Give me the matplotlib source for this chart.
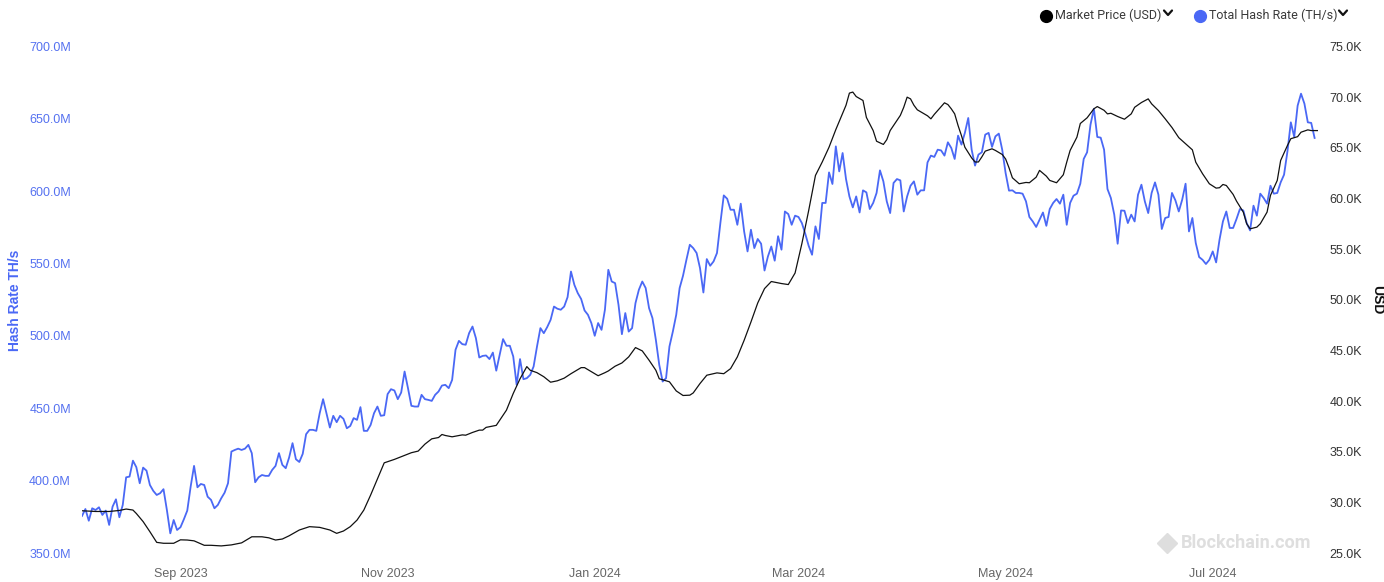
import numpy as np
import pandas as pd
import matplotlib
matplotlib.use("Agg")
import matplotlib.pyplot as plt
import matplotlib.dates as mdates
from matplotlib.lines import Line2D
from matplotlib.ticker import FuncFormatter, FixedLocator

# ---------------- data ----------------
start_date = "2023-08-03"

# Total Hash Rate (millions of TH/s), one value per day from start_date
hash_rate_m = [
    375.6, 380.4, 372.3, 380.9, 379.7, 381.6, 376.3, 379.3, 369.4, 382.0,
    387.1, 374.7, 383.2, 402.3, 402.8, 413.8, 409.3, 398.2, 409.0, 406.9,
    397.0, 392.9, 390.1, 391.3, 394.1, 379.7, 363.6, 372.8, 365.9, 367.8,
    373.3, 379.3, 395.9, 410.2, 395.4, 397.7, 397.0, 388.9, 386.7, 380.9,
    383.2, 387.8, 391.7, 398.2, 420.1, 421.2, 422.1, 421.2, 422.1, 424.7,
    419.0, 398.9, 402.3, 403.9, 403.3, 403.3, 407.4, 410.2, 419.0, 410.9,
    408.6, 416.0, 425.9, 414.8, 412.9, 418.5, 432.1, 435.1, 435.1, 434.4,
    446.6, 456.3, 446.6, 436.7, 444.8, 440.4, 444.8, 442.7, 436.2, 437.8,
    443.2, 442.0, 450.8, 434.4, 434.4, 438.5, 446.6, 451.2, 444.8, 445.2,
    459.8, 463.2, 462.3, 456.3, 460.9, 475.4, 463.9, 451.7, 451.2, 451.2,
    459.3, 456.3, 455.8, 455.1, 459.3, 461.6, 465.7, 466.2, 463.9, 469.6,
    490.4, 496.6, 494.3, 493.9, 501.9, 506.5, 498.5, 485.1, 486.2, 486.5,
    484.0, 488.5, 476.0, 486.9, 497.8, 493.2, 493.2, 485.8, 466.2, 484.0,
    470.1, 470.8, 473.1, 478.9, 492.7, 505.4, 501.9, 506.1, 511.1, 520.3,
    518.8, 518.1, 520.3, 526.8, 544.5, 535.3, 529.6, 525.5, 517.6, 514.6,
    508.9, 500.1, 508.9, 504.2, 518.1, 545.7, 537.6, 536.5, 521.5, 501.2,
    515.8, 503.0, 505.4, 522.7, 531.9, 537.6, 533.1, 519.2, 512.3, 497.3,
    480.0, 468.5, 470.8, 492.7, 503.0, 514.6, 533.1, 541.6, 552.6, 563.0,
    560.7, 557.3, 546.9, 530.0, 553.1, 548.5, 551.5, 557.3, 578.0, 597.1,
    594.8, 587.2, 587.2, 576.8, 591.4, 572.2, 558.4, 573.4, 560.7, 567.0,
    563.7, 545.2, 554.9, 561.8, 552.0, 568.9, 559.6, 586.0, 584.2, 576.8,
    583.1, 582.2, 578.0, 570.6, 562.3, 556.1, 575.7, 567.0, 591.9, 591.9,
    613.0, 605.0, 631.0, 613.7, 626.4, 608.4, 596.4, 588.8, 596.4, 585.3,
    600.6, 599.2, 587.7, 591.9, 598.8, 614.4, 606.8, 593.0, 584.9, 605.7,
    608.4, 607.5, 586.0, 596.4, 603.8, 606.8, 597.6, 600.6, 600.6, 619.9,
    624.6, 623.7, 628.7, 628.2, 624.6, 633.8, 629.9, 622.3, 638.4, 632.2,
    640.3, 650.6, 628.7, 617.7, 625.3, 626.9, 639.1, 640.3, 630.6, 637.9,
    639.8, 628.7, 612.6, 600.4, 600.6, 598.8, 598.8, 598.3, 593.0, 582.2,
    579.1, 575.3, 580.3, 585.3, 576.1, 587.7, 591.9, 594.6, 591.4, 597.6,
    576.8, 591.9, 596.9, 598.3, 605.2, 622.3, 626.9, 646.0, 657.0, 637.5,
    637.0, 628.7, 601.5, 595.3, 583.8, 563.7, 586.7, 586.5, 578.0, 583.8,
    579.1, 597.6, 604.5, 593.0, 584.9, 598.8, 606.1, 597.6, 573.9, 581.5,
    582.2, 598.8, 593.7, 586.0, 594.1, 605.2, 572.2, 581.5, 564.2, 554.5,
    552.6, 549.7, 552.6, 558.4, 550.8, 566.5, 579.1, 586.0, 574.6, 574.6,
    580.8, 587.7, 586.7, 578.0, 572.9, 590.0, 583.1, 598.3, 595.3, 591.4,
    603.8, 598.3, 598.8, 606.1, 611.4, 627.5, 647.6, 637.5, 659.1, 667.4,
    660.5, 647.6, 647.2, 636.8,
]

# Market Price (thousands of USD), sampled at day offsets from start_date
price_day = [
    0, 4, 8, 11, 13, 15, 16, 18, 20, 22, 24, 27, 29, 31, 33, 36, 38, 41, 44, 47,
    50, 53, 55, 57, 59, 61, 64, 67, 70, 73, 75, 77, 79, 81, 83, 85, 87, 89, 92, 95,
    97, 99, 101, 103, 105, 106, 107, 109, 112, 113, 115, 117, 118, 119, 122, 125,
    127, 129, 131, 132, 134, 136, 138, 140, 142, 144, 147, 148, 150, 152, 154, 155,
    157, 159, 161, 163, 165, 167, 169, 170, 172, 173, 175, 177, 179, 180, 182, 184,
    187, 189, 191, 193, 195, 197, 199, 201, 203, 206, 208, 210, 212, 214, 216, 218,
    220, 222, 223, 225, 226, 227, 228, 230, 231, 233, 234, 236, 237, 238, 239, 241,
    242, 243, 244, 245, 246, 248, 249, 250, 251, 253, 254, 255, 256, 257, 258, 259,
    260, 262, 263, 264, 265, 266, 268, 269, 271, 272, 273, 274, 276, 278, 279, 281,
    282, 284, 285, 287, 289, 290, 291, 293, 294, 296, 297, 298, 299, 301, 302, 303,
    305, 307, 309, 310, 312, 314, 315, 317, 319, 321, 323, 325, 327, 328, 330, 332,
    334, 335, 336, 337, 339, 340, 342, 343, 344, 346, 347, 349, 350, 352, 353, 355,
    356, 358, 359, 361, 362, 364,
]
price_k = [
    29.17, 29.1, 29.1, 29.2, 29.34, 29.24, 28.9, 28.1, 27.1, 26.05, 25.96, 25.96,
    26.3, 26.28, 26.2, 25.76, 25.76, 25.7, 25.8, 26.0,
    26.6, 26.6, 26.5, 26.28, 26.38, 26.7, 27.27, 27.6, 27.53, 27.27, 26.94, 27.17,
    27.6, 28.25, 29.24, 30.72, 32.3, 33.9, 34.24, 34.63,
    34.9, 35.06, 35.75, 36.27, 36.4, 36.7, 36.6, 36.47, 36.66, 36.63, 36.9, 37.13,
    37.13, 37.4, 37.6, 39.1,
    40.75, 42.2, 43.4, 43.04, 42.8, 42.4, 41.86, 42.0, 42.26, 42.7, 43.3, 43.3,
    42.9, 42.5, 42.8, 42.97,
    43.44, 43.76, 44.36, 45.28, 44.95, 44.03, 43.04, 42.2, 42.0, 41.9, 41.0, 40.55,
    40.58, 40.8, 41.73, 42.55,
    42.78, 42.7, 43.2, 44.36, 46.0, 47.8, 49.68, 51.1, 51.8, 51.6, 51.5, 52.64,
    55.54, 58.8, 62.27, 63.6,
    65.06, 66.8, 67.6, 69.2, 70.4, 70.5, 70.06, 69.67, 68.0, 66.7, 65.65, 65.33,
    65.8, 66.7, 67.2, 68.2,
    69.0, 70.0, 69.83, 69.2, 68.75, 68.35, 68.16, 67.86, 68.3, 69.07, 69.44, 69.27,
    68.85, 68.35, 67.2, 66.2,
    65.06, 64.0, 63.6, 63.6, 64.1, 64.67, 64.9, 64.74, 64.34, 63.9, 63.03, 62.04,
    61.45, 61.58, 61.55, 62.1,
    62.77, 62.2, 61.78, 61.55, 62.34, 63.58, 64.74, 66.05, 67.4, 67.96, 68.4, 68.85,
    69.07, 68.7, 68.35, 68.41,
    68.09, 67.82, 68.35, 69.0, 69.47, 69.83, 69.34, 68.68, 67.86, 67.0, 66.0, 65.4,
    64.8, 63.58, 62.44, 61.45,
    61.02, 61.06, 61.38, 61.28, 60.4, 59.74, 58.65, 57.5, 57.0, 57.17, 57.5, 58.65,
    60.3, 61.78, 63.75, 65.23,
    65.9, 66.1, 66.54, 66.77, 66.7, 66.7,
]

x_tick_dates = ["2023-09-01", "2023-11-01", "2024-01-01", "2024-03-01", "2024-05-01", "2024-07-01"]
hash_ticks_m = [350, 400, 450, 500, 550, 600, 650, 700]
price_ticks_k = [25, 30, 35, 40, 45, 50, 55, 60, 65, 70, 75]

# ---------------- figure ----------------
W, H = 1384, 582
fig = plt.figure(figsize=(W / 100, H / 100), dpi=100)
fig.patch.set_facecolor("white")

BLUE = "#4a68f5"
BLUE_TXT = "#5571f0"
BASE_FONT = ["Liberation Sans", "DejaVu Sans"]

left, right, top, bottom = 82, 1318, 46.5, 553
ax = fig.add_axes([left / W, 1 - bottom / H, (right - left) / W, (bottom - top) / H])
ax2 = ax.twinx()

t0 = pd.Timestamp(start_date)
hash_dates = pd.date_range(start_date, periods=len(hash_rate_m), freq="D")
price_dates = [t0 + pd.Timedelta(days=d) for d in price_day]

ax.plot(hash_dates, hash_rate_m, color=BLUE, lw=1.3, solid_joinstyle="round")
ax2.plot(price_dates, [p * 1000 for p in price_k], color="#111111", lw=0.9)

x0 = t0
x1 = t0 + pd.Timedelta(days=364)
ax.set_xlim(x0, x1)
ax.set_ylim(350, 700)
ax2.set_ylim(25000, 75000)

ax.xaxis.set_major_locator(FixedLocator([mdates.date2num(pd.Timestamp(d)) for d in x_tick_dates]))
ax.xaxis.set_major_formatter(mdates.DateFormatter("%b %Y"))
ax.set_yticks(hash_ticks_m)
ax.yaxis.set_major_formatter(FuncFormatter(lambda v, p: f"{v:.1f}M"))
ax2.set_yticks([k * 1000 for k in price_ticks_k])
ax2.yaxis.set_major_formatter(FuncFormatter(lambda v, p: f"{v/1000:.1f}K"))

for a in (ax, ax2):
    for s in a.spines.values():
        s.set_visible(False)
    a.tick_params(length=0)

ax.tick_params(axis="x", pad=11, labelsize=9, labelcolor="#666666")
ax.tick_params(axis="y", pad=8, labelsize=9, labelcolor=BLUE_TXT)
ax2.tick_params(axis="y", pad=8.5, labelsize=9, labelcolor="#333333")
for lab in ax.get_xticklabels() + ax.get_yticklabels() + ax2.get_yticklabels():
    lab.set_family(BASE_FONT)

fig.text(15 / W, 1 - 300 / H, "Hash Rate TH/s", rotation=90, ha="center", va="center",
         fontsize=10, fontweight="bold", color=BLUE, family=BASE_FONT)
fig.text(1377 / W, 1 - 300 / H, "USD", rotation=270, ha="center", va="center",
         fontsize=10, fontweight="bold", color="#111111", family=BASE_FONT)

# legend (top right)
def px(x, y):
    return x / W, 1 - y / H

def chevron(xc, yc):
    xs = [xc - 4, xc, xc + 4]
    ys = [yc - 2.5, yc + 2, yc - 2.5]
    fx = [x / W for x in xs]
    fy = [1 - y / H for y in ys]
    fig.add_artist(Line2D(fx, fy, transform=fig.transFigure, color="#111111", lw=1.6,
                          solid_capstyle="round", solid_joinstyle="round"))

fig.add_artist(Line2D([1046 / W], [1 - 15.5 / H], transform=fig.transFigure, marker="o",
                      markersize=8.5, color="#000000", linestyle="none"))
fig.text(*px(1055, 15.5), "Market Price (USD)", ha="left", va="center", fontsize=9,
         color="#3a3a3a", family=["Roboto", "DejaVu Sans"])
chevron(1168, 13)
fig.add_artist(Line2D([1200 / W], [1 - 15.5 / H], transform=fig.transFigure, marker="o",
                      markersize=8.5, color=BLUE, linestyle="none"))
fig.text(*px(1209, 15.5), "Total Hash Rate (TH/s)", ha="left", va="center", fontsize=9,
         color="#3a3a3a", family=["Roboto", "DejaVu Sans"])
chevron(1343, 13)

# watermark
fig.add_artist(Line2D([1167 / W], [1 - 543 / H], transform=fig.transFigure, marker="D",
                      markersize=10, color="#dedede", linestyle="none"))
fig.text(*px(1181, 543), "Blockchain.com", ha="left", va="center", fontsize=13,
         fontweight="bold", color="#dedede", family=["Roboto", "DejaVu Sans"])

fig.savefig("out.png", dpi=100, facecolor="white")
